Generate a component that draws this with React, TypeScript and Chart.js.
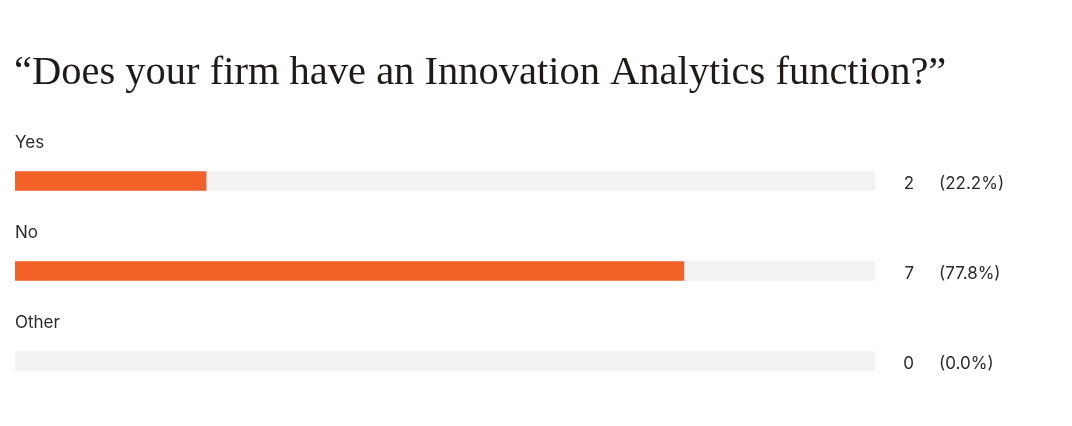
import { useEffect, useRef } from "react"
import { Chart, registerables } from "chart.js"

Chart.register(...registerables)

const TITLE = "“Does your firm have an Innovation Analytics function?”"
const categories = ["Yes", "No", "Other"]
const counts = [2, 7, 0]
const percents = ["(22.2%)", "(77.8%)", "(0.0%)"]
const total = 9

const SANS = "'Helvetica Neue', Inter, 'Liberation Sans', Arial, sans-serif"

const labelsPlugin = {
  id: "surveyLabels",
  afterDraw(chart: Chart) {
    const ctx = chart.ctx
    const y = chart.scales.y
    const area = chart.chartArea
    ctx.save()
    ctx.fillStyle = "#1f1a17"
    ctx.font = "40.5px 'Liberation Serif', 'DejaVu Serif', serif"
    ctx.textBaseline = "alphabetic"
    ctx.textAlign = "left"
    ctx.fillText(TITLE, 14, 84)
    categories.forEach((c, i) => {
      const cy = y.getPixelForValue(i)
      ctx.font = `17px ${SANS}`
      ctx.fillStyle = "#2b2b2b"
      ctx.textBaseline = "middle"
      ctx.textAlign = "left"
      ctx.fillText(c, area.left, cy - 38)
      ctx.textAlign = "right"
      ctx.fillText(String(counts[i]), area.right + 39, cy + 3)
      ctx.textAlign = "left"
      ctx.fillText(percents[i], area.right + 64, cy + 3)
    })
    ctx.restore()
  },
}

export default function App() {
  const canvasRef = useRef<HTMLCanvasElement>(null)

  useEffect(() => {
    document.body.style.margin = "0"
    const canvas = canvasRef.current
    if (!canvas) return
    const chart = new Chart(canvas, {
      type: "bar",
      data: {
        labels: categories,
        datasets: [
          {
            data: counts.map((v) => (v === 0 ? null : v)),
            backgroundColor: "#f26127",
            barThickness: 19,
            grouped: false,
            order: 0,
          },
          {
            data: categories.map(() => total),
            backgroundColor: "#f2f2f2",
            barThickness: 19,
            grouped: false,
            order: 1,
          },
        ],
      },
      options: {
        indexAxis: "y",
        animation: false,
        responsive: false,
        layout: { padding: { top: 136, bottom: 20, left: 15, right: 197 } },
        plugins: { legend: { display: false }, tooltip: { enabled: false } },
        scales: {
          x: { display: false, min: 0, max: total },
          y: { display: false },
        },
      },
      plugins: [labelsPlugin],
    })
    return () => chart.destroy()
  }, [])

  return <canvas ref={canvasRef} width={1072} height={426} style={{ display: "block" }} />
}
